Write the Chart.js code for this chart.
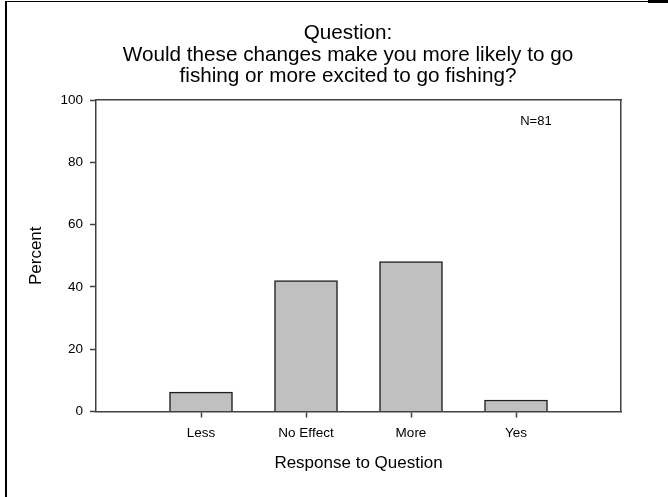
<!DOCTYPE html>
<html>
<head>
<meta charset="utf-8">
<script src="https://cdn.jsdelivr.net/npm/chart.js"></script>
<style>
body { margin: 0; background: #fff; }
#wrap { position: relative; width: 668px; height: 497px; overflow: hidden; }
#frame { position: absolute; left: 5px; top: 1px; width: 663px; height: 496px; border-left: 2px solid #000; border-top: 1px solid #000; box-sizing: border-box; }
#corner { position: absolute; left: 648px; top: 0; width: 20px; height: 3px; background: #000; }
canvas { position: absolute; left: 0; top: 0; }
</style>
</head>
<body>
<div id="wrap">
  <div id="frame"></div>
  <div id="corner"></div>
  <canvas id="chart" width="668" height="497"></canvas>
</div>
<script>
// Data (blank slots at both ends leave the empty space)
var categories = ['', 'Less', 'No Effect', 'More', 'Yes', ''];
var percentValues = [null, 6.2, 42.0, 48.1, 3.7, null];
var yTicks = [0, 20, 40, 60, 80, 100];
var titleLines = ['Question:', 'Would these changes make you more likely to go', 'fishing or more excited to go fishing?'];
var xTitle = 'Response to Question';
var yTitle = 'Percent';
var noteText = 'N=81';
var notePosition = [4.19, 93]; // in axis units

var FONT = '"Liberation Sans", Arial, sans-serif';
var AXIS_COLOR = '#404040';

Chart.defaults.color = '#000';
Chart.defaults.font.family = FONT;

// draws the N=81 note inside the plot
var notePlugin = {
    id: 'note',
    afterDatasetsDraw: function (chart) {
        var ctx = chart.ctx;
        var x = chart.scales.x.getPixelForValue(notePosition[0]);
        var y = chart.scales.y.getPixelForValue(notePosition[1]);
        ctx.save();
        ctx.font = '13px ' + FONT;
        ctx.fillStyle = '#000';
        ctx.textAlign = 'center';
        ctx.textBaseline = 'middle';
        ctx.fillText(noteText, x, y);
        ctx.restore();
    }
};

new Chart(document.getElementById('chart').getContext('2d'), {
    type: 'bar',
    data: {
        labels: categories,
        datasets: [{
            data: percentValues,
            backgroundColor: '#c0c0c0',
            borderColor: '#202020',
            borderWidth: 1.5,
            barThickness: 63
        }]
    },
    options: {
        responsive: false,
        animation: false,
        layout: { padding: { left: 28, right: 0, top: 0, bottom: 0 } },
        plugins: {
            legend: { display: false },
            tooltip: { enabled: false },
            title: {
                display: true,
                text: titleLines,
                color: '#000',
                font: { size: 20.7, weight: 'normal', lineHeight: 1.02 },
                padding: { top: 23.2, bottom: 0 }
            }
        },
        scales: {
            x: {
                type: 'category',
                offset: false,
                grid: {
                    offset: false,
                    drawOnChartArea: false,
                    tickLength: 6,
                    tickWidth: 1.5,
                    tickColor: function (c) {
                        return (c.index === 0 || c.index === categories.length - 1) ? 'rgba(0,0,0,0)' : AXIS_COLOR;
                    }
                },
                border: { color: AXIS_COLOR, width: 1.5 },
                ticks: { autoSkip: false, maxRotation: 0, padding: 8, color: '#000', font: { size: 13.5 } },
                title: {
                    display: true,
                    text: xTitle,
                    color: '#000',
                    font: { size: 17 },
                    padding: { top: 0, bottom: 23.8 }
                },
                afterFit: function (s) { s.height = 85.5; }
            },
            xTop: {
                type: 'category',
                position: 'top',
                offset: false,
                grid: { display: false },
                ticks: { display: false },
                border: { display: true, color: AXIS_COLOR, width: 1.5 },
                afterFit: function (s) { s.height = 13.5; }
            },
            y: {
                min: 0,
                max: 100,
                afterBuildTicks: function (s) {
                    s.ticks = yTicks.map(function (v) { return { value: v }; });
                },
                grid: { drawOnChartArea: false, tickLength: 6, tickWidth: 1.5, tickColor: AXIS_COLOR },
                border: { color: AXIS_COLOR, width: 1.5 },
                ticks: { padding: 7, color: '#000', font: { size: 13.5 } },
                title: {
                    display: true,
                    text: yTitle,
                    color: '#000',
                    font: { size: 17, lineHeight: 1 },
                    padding: 0
                },
                afterFit: function (s) { s.width = 68; }
            },
            yRight: {
                position: 'right',
                min: 0,
                max: 100,
                grid: { display: false },
                ticks: { display: false },
                border: { display: true, color: AXIS_COLOR, width: 1.5 },
                afterFit: function (s) { s.width = 47; }
            }
        }
    },
    plugins: [notePlugin]
});
</script>
</body>
</html>
